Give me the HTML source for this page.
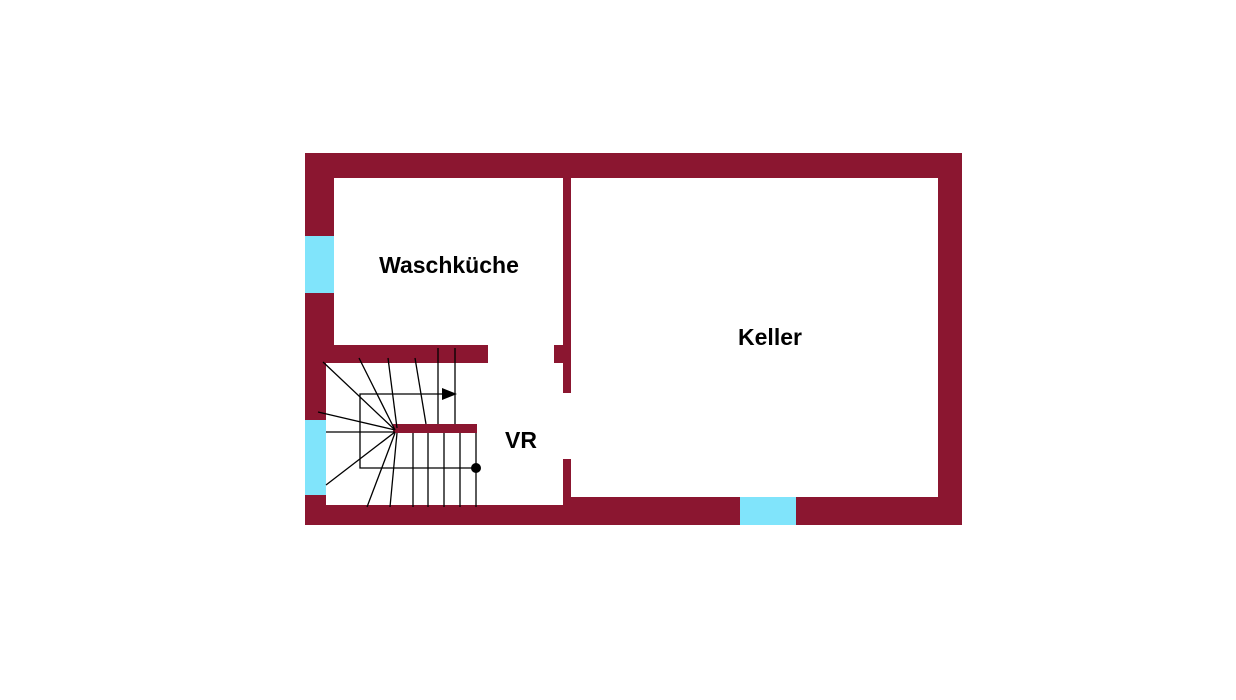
<!DOCTYPE html>
<html><head><meta charset="utf-8"><style>html,body{margin:0;padding:0;background:#fff;}</style></head>
<body>
<svg width="1236" height="700" viewBox="0 0 1236 700" xmlns="http://www.w3.org/2000/svg" style="display:block">
<g fill="#8b1630">
<rect x="305" y="153" width="657" height="25"/>
<rect x="938" y="153" width="24" height="372"/>
<rect x="305" y="153" width="29" height="200"/>
<rect x="305" y="345" width="21" height="180"/>
<rect x="305" y="345" width="183" height="18"/>
<rect x="554" y="345" width="17" height="18"/>
<rect x="563" y="178" width="8" height="215"/>
<rect x="563" y="459" width="8" height="66"/>
<rect x="305" y="505" width="266" height="20"/>
<rect x="563" y="497" width="399" height="28"/>
<rect x="393" y="424" width="84" height="9"/>
</g>
<g fill="#80e4fb">
<rect x="305" y="236" width="29" height="57"/>
<rect x="305" y="420" width="21" height="75"/>
<rect x="740" y="497" width="56" height="28"/>
</g>
<g stroke="#000" stroke-width="1.3" fill="none">
<line x1="323" y1="362" x2="395" y2="430"/>
<line x1="359" y1="358" x2="395" y2="430"/>
<line x1="388" y1="358" x2="397" y2="428"/>
<line x1="415" y1="358" x2="426" y2="424"/>
<line x1="438" y1="348" x2="438" y2="424"/>
<line x1="455" y1="348" x2="455" y2="424"/>
<line x1="318" y1="412" x2="395" y2="430"/>
<line x1="326" y1="432" x2="395" y2="432"/>
<line x1="326" y1="485" x2="395" y2="432"/>
<line x1="367" y1="507" x2="395" y2="433"/>
<line x1="390" y1="507" x2="397" y2="433"/>
<line x1="413" y1="433" x2="413" y2="507"/>
<line x1="428" y1="433" x2="428" y2="507"/>
<line x1="444" y1="433" x2="444" y2="507"/>
<line x1="460" y1="433" x2="460" y2="507"/>
<line x1="476" y1="433" x2="476" y2="507"/>
<polyline points="445,394 360,394 360,468 476,468"/>
</g>
<polygon points="442,388 457,394 442,400" fill="#000"/>
<circle cx="476" cy="468" r="5" fill="#000"/>
<g font-family="Liberation Sans, sans-serif" font-weight="bold" font-size="23" fill="#000" text-anchor="middle">
<text x="449" y="273">Waschküche</text>
<text x="770" y="345">Keller</text>
<text x="521" y="448">VR</text>
</g>
</svg>
</body></html>
